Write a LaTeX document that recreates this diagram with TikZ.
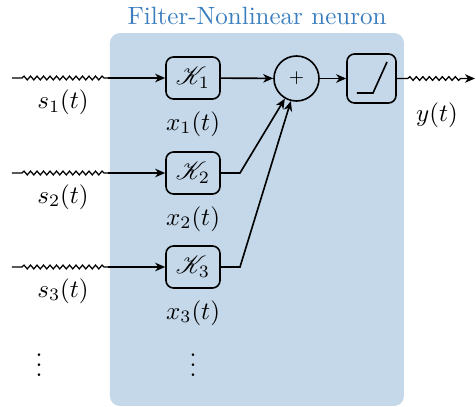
\documentclass[tikz,border=0pt]{standalone}
\usepackage{amsmath,amssymb}
\usepackage{mathrsfs}
\usepackage{xcolor}
\usepackage{tikz}
\usetikzlibrary{positioning,calc,decorations.pathmorphing,arrows.meta}

\definecolor{neuronbg}{RGB}{196,216,234}
\definecolor{neurontitle}{RGB}{58,126,191}

\begin{document}
\begin{tikzpicture}[x=0.4pt, y=-0.4pt, line width=0.65pt, >={Stealth[length=4pt, width=3.4pt, inset=1.2pt]},
        filt/.style={draw, rectangle, rounded corners=3pt, minimum width=21.6pt, minimum height=16.8pt, inner sep=0pt},
        summer/.style={draw, circle, minimum size=18pt, inner sep=0pt, font=\scriptsize},
        nlbox/.style={draw, rectangle, rounded corners=3pt, minimum size=19.6pt, inner sep=0pt},
        wavy/.style={line width=0.5pt, decorate, decoration={snake, amplitude=0.75pt, segment length=2.6pt, pre length=4pt, post length=1pt}}
    ]
        \useasboundingbox (0,0) rectangle (476,407);

        % Neuron background
        \fill[neuronbg, rounded corners=4pt] (110,33) rectangle (404,406);
        \node[text=neurontitle] (title) at (257,16) {Filter-Nonlinear neuron};

        % Filters
        \node [filt] (k1) at (193,78) {$\mathscr{K}_1$};
        \node [filt] (k2) at (193,173) {$\mathscr{K}_2$};
        \node [filt] (k3) at (193,267) {$\mathscr{K}_3$};
        \node [below=1pt of k1] (x1) {$x_1(t)$};
        \node [below=1pt of k2] (x2) {$x_2(t)$};
        \node [below=1pt of k3] (x3) {$x_3(t)$};
        \node (xdots) at (193,358) {$\vdots$};

        % Summation and nonlinearity
        \node [summer] (sum) at (296.5,78.5) {$+$};
        \node [nlbox] (nl) at (371.5,78.5) {};
        \draw ($(nl)+(-14.5,14.5)$) -- ($(nl)+(1.5,14.5)$) -- ($(nl)+(15.5,-16.5)$);

        % Inputs
        \coordinate (in1) at (12,78);
        \coordinate (in2) at (12,173);
        \coordinate (in3) at (12,267);
        \coordinate (w1) at (108,78);
        \coordinate (w2) at (108,173);
        \coordinate (w3) at (108,267);
        \draw [wavy] (in1) -- (w1);
        \draw [wavy] (in2) -- (w2);
        \draw [wavy] (in3) -- (w3);
        \draw [->] (w1) -- (k1);
        \draw [->] (w2) -- (k2);
        \draw [->] (w3) -- (k3);
        \node (s1) at (63,102) {$s_1(t)$};
        \node (s2) at (63,197) {$s_2(t)$};
        \node (s3) at (63,291) {$s_3(t)$};
        \node (sdots) at (39,358) {$\vdots$};

        % Into the sum
        \coordinate (b2) at (240,173);
        \coordinate (b3) at (240,267);
        \draw [->] (k1) -- (sum);
        \draw [->] (k2) -- (b2) -- (sum.-120);
        \draw [->] (k3) -- (b3) -- (sum.-104);
        \draw [->] (sum) -- (nl);

        % Output
        \coordinate (out) at (475,78.5);
        \draw [->, line width=0.5pt, decorate, decoration={snake, amplitude=0.75pt, segment length=2.6pt, pre length=4.4pt, post length=4.5pt}] (nl) -- (out);
        \node (y) at (437,115) {$y(t)$};
    \end{tikzpicture}
\end{document}
